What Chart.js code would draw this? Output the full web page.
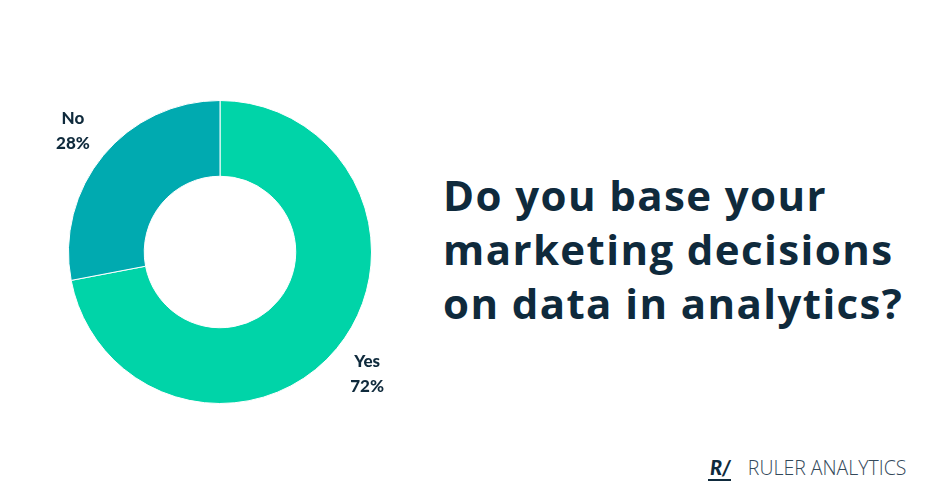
<!DOCTYPE html>
<html>
<head>
<meta charset="utf-8">
<script src="https://cdn.jsdelivr.net/npm/chart.js@4.4.0/dist/chart.umd.min.js"></script>
<style>
  html, body { margin: 0; padding: 0; background: #fff; }
  #wrap { position: relative; width: 940px; height: 500px; overflow: hidden; }
  #chartBox { position: absolute; left: 20px; top: 52px; width: 400px; height: 400px; }
  #title {
    position: absolute; left: 443px; top: 168px;
    font-family: "Open Sans", sans-serif; font-weight: 700; font-size: 42px;
    line-height: 54px; color: #0f2a3c; letter-spacing: 1.4px; white-space: nowrap;
  }
  #brand {
    position: absolute; left: 708px; top: 454px;
    font-family: "Open Sans", sans-serif; font-weight: 300; font-size: 19.5px; color: #34495a;
    white-space: nowrap;
  }
  #brand .mark {
    font-family: Lato, sans-serif; font-weight: 900; font-style: italic; font-size: 20px;
    color: #0f2a3c; margin-right: 17px; border-bottom: 2px solid #0f2a3c; padding-left: 2px;
  }
</style>
</head>
<body>
<div id="wrap">
  <div id="chartBox"><canvas id="donut" width="400" height="400"></canvas></div>
  <div id="title">Do you base your<br>marketing decisions<br>on data in analytics?</div>
  <div id="brand"><span class="mark">R/</span>RULER ANALYTICS</div>
</div>
<script>
// survey answers
const answers = ['Yes', 'No'];
const shares = [72, 28];
const sliceColors = ['#00d4a8', '#00aab0'];

// puts "Yes / 72%" style labels just outside each slice
const outsideLabels = {
    id: 'outsideLabels',
    afterDatasetsDraw(chart) {
        const ctx = chart.ctx;
        const meta = chart.getDatasetMeta(0);
        ctx.save();
        ctx.fillStyle = '#0f2a3c';
        ctx.font = '900 17px Lato, sans-serif';
        ctx.textAlign = 'center';
        ctx.textBaseline = 'middle';
        meta.data.forEach((arc, i) => {
            const mid = (arc.startAngle + arc.endAngle) / 2;
            const r = arc.outerRadius * 1.26;
            const x = arc.x + Math.cos(mid) * r;
            const y = arc.y + Math.sin(mid) * r;
            ctx.fillText(chart.data.labels[i], x, y - 12);
            ctx.fillText(chart.data.datasets[0].data[i] + '%', x, y + 13);
        });
        ctx.restore();
    }
};

new Chart(document.getElementById('donut'), {
    type: 'doughnut',
    data: {
        labels: answers,
        datasets: [{
            data: shares,
            backgroundColor: sliceColors,
            borderColor: '#ffffff',
            borderWidth: 1
        }]
    },
    options: {
        responsive: false,
        animation: false,
        cutout: '50%',
        layout: { padding: 48 },
        events: [],
        plugins: {
            legend: { display: false },
            tooltip: { enabled: false }
        }
    },
    plugins: [outsideLabels]
});
</script>
</body>
</html>
